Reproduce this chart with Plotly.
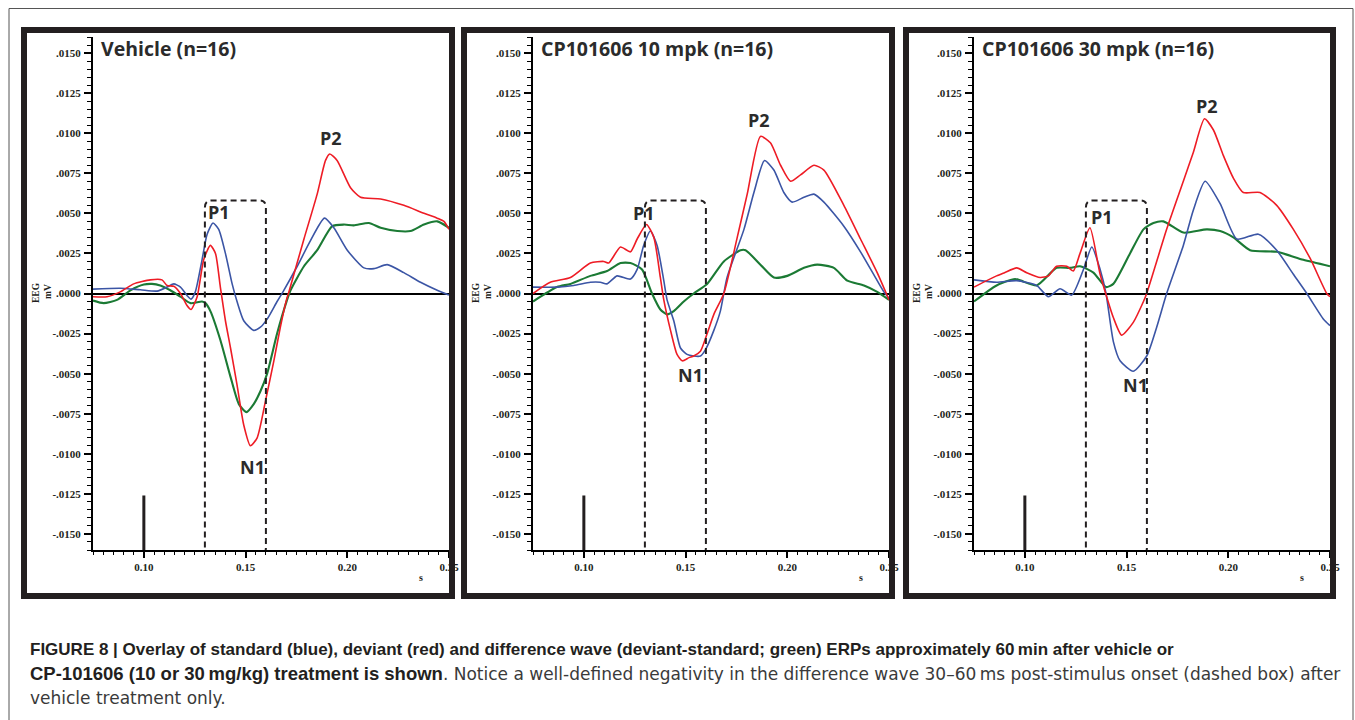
import plotly.graph_objects as go

# ---------------- data ----------------
PANEL_TITLES = ["Vehicle (n=16)", "CP101606 10 mpk (n=16)", "CP101606 30 mpk (n=16)"]

# Vehicle
veh_std_t = [0.0750, 0.0884, 0.0983, 0.1065, 0.1114, 0.1147, 0.1180, 0.1212, 0.1232, 0.1253, 0.1286, 0.1311,
             0.1340, 0.1368, 0.1401, 0.1434, 0.1458, 0.1491, 0.1540, 0.1573, 0.1606, 0.1655, 0.1688, 0.1754,
             0.1819, 0.1888, 0.1934, 0.2000, 0.2082, 0.2131, 0.2196, 0.2278, 0.2360, 0.2442, 0.2500]
veh_std_v = [0.00027, 0.00033, 0.00023, 0.00015, 0.0004, 0.0006, 0.0004, -0.00012, -0.00035, 0.0001, 0.0021, 0.0037,
             0.0044, 0.0040, 0.0025, 0.0006, -0.0005, -0.0017, -0.0023, -0.0021, -0.0016, -0.0005, 0.0002, 0.0017,
             0.0033, 0.0047, 0.0041, 0.0027, 0.0016, 0.00155, 0.0018, 0.0013, 0.0007, 0.0002, -0.0001]
veh_dev_t = [0.0750, 0.0819, 0.0884, 0.0950, 0.1032, 0.1089, 0.1114, 0.1147, 0.1180, 0.1212, 0.1232, 0.1262,
             0.1294, 0.1327, 0.1352, 0.1376, 0.1401, 0.1426, 0.1458, 0.1491, 0.1524, 0.1557, 0.1598, 0.1639,
             0.1671, 0.1701, 0.1713, 0.1787, 0.1852, 0.1893, 0.1914, 0.1950, 0.2016, 0.2065, 0.2164, 0.2278,
             0.2377, 0.2442, 0.2475, 0.2500]
veh_dev_v = [-0.0002, -0.0002, 0.0001, 0.0006, 0.00085, 0.00085, 0.0005, 0.00045, 0.0, -0.00075, -0.0010, -0.0002,
             0.0021, 0.0030, 0.0025, 0.0004, -0.0017, -0.0034, -0.0057, -0.0082, -0.0095, -0.0090, -0.0067, -0.0042,
             -0.0021, -0.0004, 0.0001, 0.0034, 0.0062, 0.0083, 0.0087, 0.0083, 0.0066, 0.0060, 0.0059, 0.0055,
             0.0050, 0.0047, 0.0045, 0.0040]
veh_dif_t = [0.0750, 0.0802, 0.0868, 0.0934, 0.1000, 0.1040, 0.1081, 0.1130, 0.1180, 0.1229, 0.1286, 0.1303,
             0.1327, 0.1376, 0.1426, 0.1467, 0.1504, 0.1540, 0.1573, 0.1606, 0.1655, 0.1704, 0.1721, 0.1787,
             0.1852, 0.1926, 0.1983, 0.2032, 0.2106, 0.2164, 0.2246, 0.2311, 0.2377, 0.2442, 0.2500]
veh_dif_v = [-0.00044, -0.0006, -0.0004, 0.0002, 0.00056, 0.0006, 0.0005, 0.0002, -0.0002, -0.0006, -0.0005, -0.0006,
             -0.0011, -0.0029, -0.0052, -0.0069, -0.0074, -0.0069, -0.0061, -0.0050, -0.0025, -0.0004, 0.0002, 0.0017,
             0.0027, 0.0042, 0.0043, 0.00425, 0.0044, 0.0041, 0.0039, 0.0039, 0.0043, 0.0045, 0.0041]

# CP101606 10 mpk
c10_std_t = [0.0750, 0.0868, 0.0950, 0.1032, 0.1081, 0.1114, 0.1163, 0.1229, 0.1262, 0.1294, 0.1327, 0.1360,
             0.1393, 0.1409, 0.1442, 0.1475, 0.1507, 0.1540, 0.1573, 0.1598, 0.1639, 0.1671, 0.1704, 0.1787,
             0.1836, 0.1888, 0.1934, 0.1983, 0.2024, 0.2082, 0.2131, 0.2180, 0.2278, 0.2360, 0.2442, 0.2475, 0.2500]
c10_std_v = [0.0004, 0.0004, 0.0005, 0.0007, 0.0007, 0.0006, 0.0011, 0.0009, 0.0015, 0.0030, 0.0039, 0.0030,
             0.0008, -0.0004, -0.0017, -0.0034, -0.0038, -0.0039, -0.0039, -0.0035, -0.0023, -0.0011, 0.0010, 0.0040,
             0.0063, 0.0083, 0.0077, 0.0063, 0.0057, 0.0060, 0.0062, 0.0057, 0.0042, 0.0026, 0.0008, 0.0001, -0.0003]
c10_dev_t = [0.0750, 0.0835, 0.0934, 0.1032, 0.1098, 0.1122, 0.1180, 0.1229, 0.1262, 0.1308, 0.1344, 0.1376,
             0.1393, 0.1426, 0.1458, 0.1484, 0.1517, 0.1540, 0.1573, 0.1606, 0.1639, 0.1688, 0.1754, 0.1803,
             0.1868, 0.1917, 0.1967, 0.2016, 0.2065, 0.2131, 0.2180, 0.2278, 0.2360, 0.2442, 0.2500]
c10_dev_v = [0.0000, 0.0007, 0.0010, 0.0019, 0.0020, 0.0019, 0.0029, 0.0026, 0.0034, 0.0043, 0.0035, 0.0010,
             -0.0004, -0.0023, -0.0038, -0.0042, -0.0040, -0.0039, -0.0036, -0.0025, -0.0013, 0.0000, 0.0035, 0.0062,
             0.0098, 0.0094, 0.0080, 0.0070, 0.0074, 0.0080, 0.0077, 0.0055, 0.0034, 0.0013, -0.0004]
c10_dif_t = [0.0750, 0.0868, 0.0934, 0.1032, 0.1114, 0.1180, 0.1229, 0.1286, 0.1335, 0.1376, 0.1409, 0.1442,
             0.1491, 0.1540, 0.1606, 0.1688, 0.1770, 0.1795, 0.1868, 0.1934, 0.2000, 0.2082, 0.2147, 0.2229,
             0.2295, 0.2377, 0.2442, 0.2500]
c10_dif_v = [-0.0005, 0.0004, 0.0006, 0.0011, 0.0014, 0.0019, 0.0019, 0.0015, 0.0000, -0.0010, -0.0013, -0.0011,
             -0.0005, 0.0000, 0.0006, 0.0020, 0.0027, 0.0027, 0.0018, 0.0010, 0.0011, 0.0016, 0.0018, 0.0016,
             0.0008, 0.0005, 0.0001, -0.0004]

# CP101606 30 mpk
c30_std_t = [0.0750, 0.0861, 0.0960, 0.1058, 0.1116, 0.1173, 0.1230, 0.1288, 0.1329, 0.1370, 0.1399, 0.1435,
             0.1468, 0.1533, 0.1599, 0.1648, 0.1697, 0.1779, 0.1828, 0.1886, 0.1960, 0.2042, 0.2148, 0.2238,
             0.2320, 0.2386, 0.2468, 0.2500]
c30_std_v = [0.00085, 0.0007, 0.0008, 0.0005, -0.0002, 0.0003, -0.0001, 0.0015, 0.0029, 0.0015, 0.0000, -0.0030,
             -0.0042, -0.00485, -0.0039, -0.0021, 0.0000, 0.0030, 0.0052, 0.0070, 0.0056, 0.0034, 0.0037, 0.0027,
             0.0012, 0.0000, -0.0016, -0.0020]
c30_dev_t = [0.0750, 0.0861, 0.0900, 0.0960, 0.1009, 0.1075, 0.1116, 0.1156, 0.1206, 0.1238, 0.1271, 0.1320,
             0.1370, 0.1435, 0.1476, 0.1533, 0.1583, 0.1599, 0.1697, 0.1779, 0.1828, 0.1883, 0.1927, 0.1976,
             0.2025, 0.2074, 0.2156, 0.2238, 0.2320, 0.2402, 0.2484, 0.2500]
c30_dev_v = [0.0004, 0.0011, 0.0013, 0.0016, 0.0013, 0.0010, 0.0011, 0.0017, 0.0017, 0.0014, 0.0025, 0.0041,
             0.0012, -0.0015, -0.0026, -0.0018, -0.0005, 0.0000, 0.0040, 0.0070, 0.0088, 0.0109, 0.0102, 0.0086,
             0.0072, 0.0063, 0.0063, 0.0055, 0.0040, 0.0022, 0.0000, -0.0002]
c30_dif_t = [0.0750, 0.0861, 0.0952, 0.1058, 0.1156, 0.1222, 0.1271, 0.1337, 0.1399, 0.1435, 0.1517, 0.1583,
             0.1632, 0.1681, 0.1779, 0.1894, 0.1960, 0.2025, 0.2107, 0.2238, 0.2369, 0.2500]
c30_dif_v = [-0.0005, 0.0005, 0.0009, 0.0005, 0.0016, 0.0016, 0.0017, 0.0013, 0.0004, 0.0006, 0.0025, 0.0040,
             0.0044, 0.0045, 0.0038, 0.0040, 0.0039, 0.0035, 0.0027, 0.0026, 0.0021, 0.0017]

# peak label positions (s, mV) per panel
PEAK_LABELS = ["P1", "P2", "N1"]
peak_t = [[0.1371, 0.1922, 0.1533], [0.1294, 0.1860, 0.1524], [0.1378, 0.1894, 0.1542]]
peak_v = [[0.0051, 0.0097, -0.0108], [0.0050, 0.0108, -0.0051], [0.0048, 0.0117, -0.0057]]

STIM_T = 0.10            # stimulus onset marker
STIM_TOP = -0.0126
BOX_T = [0.130, 0.160]   # dashed window (30-60 ms post-stimulus)
BOX_TOP = 0.0058

X_RANGE = [0.075, 0.25]
Y_RANGE = [-0.016, 0.016]
X_TICKS = [0.10, 0.15, 0.20, 0.25]
X_TICK_TEXT = ["0.10", "0.15", "0.20", "0.25"]
Y_TICKS = [0.015, 0.0125, 0.01, 0.0075, 0.005, 0.0025, 0.0, -0.0025, -0.005, -0.0075, -0.01, -0.0125, -0.015]
Y_TICK_TEXT = [".0150", ".0125", ".0100", ".0075", ".0050", ".0025", ".0000",
               "-.0025", "-.0050", "-.0075", "-.0100", "-.0125", "-.0150"]

CAPTION_BOLD = [
    "FIGURE 8 | Overlay of standard (blue), deviant (red) and difference wave (deviant-standard; green) ERPs approximately 60\u2009min after vehicle or",
    "CP-101606 (10 or 30\u2009mg/kg) treatment is shown",
    "",
]
CAPTION_REG = [
    "",
    ". Notice a well-defined negativity in the difference wave 30\u201360\u2009ms post-stimulus onset (dashed box) after",
    "vehicle treatment only.",
]

panels = [
    (veh_std_t, veh_std_v, veh_dev_t, veh_dev_v, veh_dif_t, veh_dif_v),
    (c10_std_t, c10_std_v, c10_dev_t, c10_dev_v, c10_dif_t, c10_dif_v),
    (c30_std_t, c30_std_v, c30_dev_t, c30_dev_v, c30_dif_t, c30_dif_v),
]

# ---------------- styling / layout ----------------
W, H = 1355, 720          # design space (pixel positions below are in this space)
FIG_W = 1365              # rendered width
BLUE, RED, GREEN = "#3b55a5", "#ee1c25", "#1b7a34"
INK = "#231f20"
axis_left_px = [93, 533, 974]
axis_right_px = [449, 889, 1330]
frame_px = [(24, 452), (464, 892), (906, 1333)]
plot_top_px, plot_bot_px = 37, 550

fig = go.Figure()
layout = dict(width=FIG_W, height=H, margin=dict(l=0, r=0, t=0, b=0),
              paper_bgcolor="white", plot_bgcolor="white", showlegend=False)
shapes, annotations = [], []

tickfont = dict(family="Liberation Serif", size=11, color=INK, weight="bold")
for i, (st, sv, dt, dv, ft, fv) in enumerate(panels):
    xa = "x" if i == 0 else f"x{i+1}"
    ya = "y" if i == 0 else f"y{i+1}"
    xkey = "xaxis" if i == 0 else f"xaxis{i+1}"
    ykey = "yaxis" if i == 0 else f"yaxis{i+1}"
    for tt, vv, col, w in [(ft, fv, GREEN, 2.1), (st, sv, BLUE, 1.6), (dt, dv, RED, 1.6)]:
        fig.add_trace(go.Scatter(x=tt, y=vv, mode="lines", xaxis=xa, yaxis=ya,
                                 line=dict(color=col, width=w, shape="spline", smoothing=0.6),
                                 hoverinfo="skip"))
    layout[xkey] = dict(domain=[axis_left_px[i] / W, axis_right_px[i] / W], range=X_RANGE,
                        anchor=ya, showgrid=False, zeroline=False, showline=True, linecolor="black",
                        linewidth=2, ticks="outside", ticklen=6, tickwidth=1.5, tickcolor="black",
                        tickmode="array", tickvals=X_TICKS, ticktext=X_TICK_TEXT, tickfont=tickfont,
                        minor=dict(tickmode="linear", tick0=0, dtick=0.005, ticks="outside", ticklen=3,
                                   tickwidth=1, tickcolor="black", showgrid=False))
    layout[ykey] = dict(domain=[(H - plot_bot_px) / H, (H - plot_top_px) / H], range=Y_RANGE,
                        anchor=xa, showgrid=False, zeroline=True, zerolinecolor="black", zerolinewidth=2,
                        showline=True, linecolor="black", linewidth=2, ticks="outside", ticklen=7,
                        tickwidth=1.5, tickcolor="black", tickmode="array", tickvals=Y_TICKS,
                        ticktext=Y_TICK_TEXT, tickfont=tickfont, ticklabelstandoff=1,
                        minor=dict(tickmode="linear", tick0=0, dtick=0.0005, ticks="outside", ticklen=4,
                                   tickwidth=1, tickcolor="black", showgrid=False))
    # stimulus marker
    shapes.append(dict(type="line", xref=xa, yref=ya, x0=STIM_T, x1=STIM_T, y0=STIM_TOP, y1=Y_RANGE[0],
                       line=dict(color=INK, width=3), layer="above"))
    # dashed rounded box
    a, b = BOX_T
    rx, ry = 0.003, 0.00045
    bot = -0.0163
    path = (f"M {a},{bot + ry} L {a},{BOX_TOP - ry} Q {a},{BOX_TOP} {a + rx},{BOX_TOP} "
            f"L {b - rx},{BOX_TOP} Q {b},{BOX_TOP} {b},{BOX_TOP - ry} L {b},{bot + ry} "
            f"Q {b},{bot} {b - rx},{bot} L {a + rx},{bot} Q {a},{bot} {a},{bot + ry} Z")
    shapes.append(dict(type="path", xref=xa, yref=ya, path=path,
                       line=dict(color=INK, width=2, dash="6px,4px"), layer="above"))
    # panel frame
    fx0, fx1 = frame_px[i]
    shapes.append(dict(type="rect", xref="paper", yref="paper", x0=fx0 / W, x1=fx1 / W,
                       y0=(H - 596) / H, y1=(H - 30) / H, line=dict(color=INK, width=6), layer="above"))
    # title
    annotations.append(dict(xref="paper", yref="paper", x=(axis_left_px[i] + 6) / W, y=(H - 49) / H,
                            xanchor="left", yanchor="middle", showarrow=False, text=f"<b>{PANEL_TITLES[i]}</b>",
                            font=dict(family="Open Sans", size=19.5, color="#2b2b2b")))
    # peak labels
    for lab, pt, pv in zip(PEAK_LABELS, peak_t[i], peak_v[i]):
        annotations.append(dict(xref=xa, yref=ya, x=pt, y=pv, showarrow=False, text=f"<b>{lab}</b>",
                                xanchor="center", yanchor="middle",
                                font=dict(family="Open Sans", size=18, color="#2b2b2b")))
    # y-axis title
    ax_l = axis_left_px[i]
    annotations.append(dict(xref="paper", yref="paper", x=(ax_l - 57) / W, y=(H - 293) / H,
                            showarrow=False, textangle=-90, text="<b>EEG</b>", xanchor="center", yanchor="middle",
                            font=dict(family="Liberation Serif", size=9.5, color=INK)))
    annotations.append(dict(xref="paper", yref="paper", x=(ax_l - 45) / W, y=(H - 292) / H,
                            showarrow=False, textangle=-90, text="<b>mV</b>", xanchor="center", yanchor="middle",
                            font=dict(family="Liberation Serif", size=9.5, color=INK)))
    # x-axis unit
    annotations.append(dict(xref="paper", yref="paper", x=(ax_l + 328) / W, y=(H - 577) / H,
                            showarrow=False, text="<b>s</b>", xanchor="center", yanchor="middle",
                            font=dict(family="Liberation Serif", size=10, color=INK)))

# outer thin figure border
shapes.append(dict(type="rect", xref="paper", yref="paper", x0=9 / W, x1=1353 / W, y0=-0.05, y1=(H - 8.5) / H,
                   line=dict(color="#555555", width=1), layer="below"))

# caption
cap_y = [649, 673, 698]
for k, (bt, rt, yy) in enumerate(zip(CAPTION_BOLD, CAPTION_REG, cap_y)):
    txt = ""
    if bt:
        bsize = 17 if k == 0 else 18.5
        txt += f"<b><span style='font-size:{bsize}px'>{bt}</span></b>"
    if rt:
        txt += f"<span style='font-family:DejaVu Sans;font-size:17px;color:#3a3a3a'>{rt}</span>"
    annotations.append(dict(xref="paper", yref="paper", x=28 / W, y=(H - yy) / H, xanchor="left",
                            yanchor="middle", showarrow=False, text=txt, align="left",
                            font=dict(family="Liberation Sans", size=17, color=INK)))

layout["shapes"] = shapes
layout["annotations"] = annotations
fig.update_layout(**layout)
fig.write_html(
    "out.html", config={"displayModeBar": False},
    post_script=(
        "document.documentElement.style.overflow='hidden';"
        "document.body.style.overflow='hidden';document.body.style.margin='0px';"
    ),
)
